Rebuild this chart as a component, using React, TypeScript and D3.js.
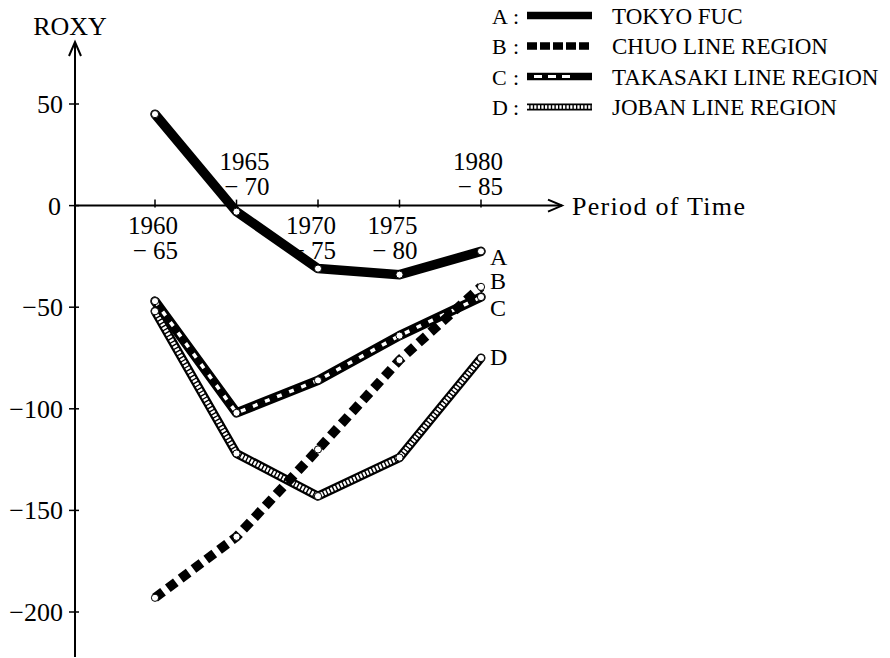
import React from "react";
import * as d3 from "d3";

const periods = ["1960-65", "1965-70", "1970-75", "1975-80", "1980-85"];
const periodTop = ["1960", "1965", "1970", "1975", "1980"];
const periodBottom = ["− 65", "− 70", "− 75", "− 80", "− 85"];
const labelAbove = [false, true, false, false, true];
const labelShift = [-1, 9, -6, -6, -2];

const yTicks = [50, 0, -50, -100, -150, -200];
const yTickLabels = ["50", "0", "−50", "−100", "−150", "−200"];

const seriesKeys = ["A", "B", "C", "D"];
const seriesNames = ["TOKYO FUC", "CHUO LINE REGION", "TAKASAKI LINE REGION", "JOBAN LINE REGION"];
const tokyo = [45, -3, -31, -34, -22.5];
const chuo = [-193, -163, -120, -76, -40];
const takasaki = [-47, -102, -86, -64, -45];
const joban = [-52, -122, -143, -124, -75];

const F = "'Liberation Serif', 'Times New Roman', serif";

const x = d3.scalePoint<string>().domain(periods).range([155, 481]);
const y = d3.scaleLinear().domain([-200, 50]).range([612, 104]);
const line = d3.line<[number, number]>().x((d) => d[0]).y((d) => d[1]);

function pts(vals: number[]): [number, number][] {
  return vals.map((v, i) => [x(periods[i]) as number, y(v)]);
}

function Styled({ d, kind, legend }: { d: string; kind: string; legend?: boolean }) {
  const w = legend ? 7.5 : 9.5;
  const common = { fill: "none", strokeLinejoin: "round" as const };
  if (kind === "A")
    return <path d={d} {...common} stroke="#000" strokeWidth={w} strokeLinecap={legend ? "butt" : "round"} />;
  if (kind === "B")
    return (
      <path d={d} {...common} stroke="#000" strokeWidth={w} strokeDasharray={legend ? "10 3" : "10 6"} strokeLinejoin="miter" />
    );
  if (kind === "C")
    return (
      <g>
        <path d={d} {...common} stroke="#000" strokeWidth={w} strokeLinecap={legend ? "butt" : "round"} />
        <path d={d} {...common} stroke="#fff" strokeWidth={legend ? 3 : 3.5} strokeDasharray={legend ? "0 7 8 6 8 6 8 20" : "5 8"} />
      </g>
    );
  return (
    <g>
      <path d={d} {...common} stroke="#000" strokeWidth={legend ? 7 : 9} strokeLinecap={legend ? "butt" : "round"} />
      <path d={d} {...common} stroke="#fff" strokeWidth={legend ? 3.5 : 4.5} strokeDasharray="2.2 1.4" />
    </g>
  );
}

export default function App() {
  const data = [tokyo, chuo, takasaki, joban];
  const order = [3, 2, 1, 0];
  const endLabelY = [265, 289, 316, 365];
  const x0 = 75;
  const y0 = y(0);
  return (
    <svg width={890} height={658} style={{ position: "absolute", left: 0, top: 0, background: "#fff" }}>
      {/* y axis */}
      <line x1={x0} y1={42} x2={x0} y2={657} stroke="#000" strokeWidth={2} />
      <path d={`M${x0 - 6},${56} L${x0},${42} L${x0 + 6},${56}`} fill="none" stroke="#000" strokeWidth={2} />
      <text x={70} y={35} fontFamily={F} fontSize={26} textAnchor="middle">ROXY</text>
      {yTicks.map((t, i) => (
        <line key={"yt" + i} x1={x0 - 6} x2={x0 + 4} y1={y(t)} y2={y(t)} stroke="#000" strokeWidth={1.5} />
      ))}
      {yTicks.map((t, i) => (
        <text key={"yl" + i} x={t === 0 ? 61 : 63} y={y(t) + 9} fontFamily={F} fontSize={26} textAnchor="end">
          {yTickLabels[i]}
        </text>
      ))}
      {/* x axis */}
      <line x1={x0} y1={y0} x2={562} y2={y0} stroke="#000" strokeWidth={2} />
      <path d={`M${548},${y0 - 6} L${562},${y0} L${548},${y0 + 6}`} fill="none" stroke="#000" strokeWidth={2} />
      <text x={572} y={y0 + 9} fontFamily={F} fontSize={26} letterSpacing={1.3}>Period of Time</text>
      {periods.map((p, i) => {
        const cx = (x(p) as number);
        const right = cx + labelShift[i] + 24;
        const ty1 = labelAbove[i] ? 170 : 234;
        return (
          <g key={"xt" + i}>
            <line x1={cx} x2={cx} y1={y0 - 6} y2={y0 + 2} stroke="#000" strokeWidth={1.5} />
            <text x={right} y={ty1} fontFamily={F} fontSize={25} textAnchor="end">{periodTop[i]}</text>
            <text x={right} y={ty1 + 25} fontFamily={F} fontSize={25} textAnchor="end">{periodBottom[i]}</text>
          </g>
        );
      })}
      {/* series */}
      {order.map((k) => {
        const p = pts(data[k]);
        return (
          <g key={"s" + k}>
            <Styled d={line(p) as string} kind={seriesKeys[k]} />
          </g>
        );
      })}
      {order.map((k) =>
        pts(data[k]).map((q, i) => (
          <circle key={"c" + k + i} cx={q[0]} cy={q[1]} r={3.6} fill="#fff" stroke="#000" strokeWidth={1} />
        ))
      )}
      {seriesKeys.map((s, k) => (
        <text key={"el" + k} x={490} y={endLabelY[k]} fontFamily={F} fontSize={24}>{s}</text>
      ))}
      {/* legend */}
      {seriesKeys.map((s, k) => {
        const cy = 15.5 + k * 30.5;
        return (
          <g key={"lg" + k}>
            <text x={492} y={cy + 8} fontFamily={F} fontSize={22}>{s}</text>
            <text x={513} y={cy + 8} fontFamily={F} fontSize={22}>:</text>
            <Styled d={`M527,${cy}L592,${cy}`} kind={s} legend />
            <text x={612} y={cy + 8} fontFamily={F} fontSize={23}>{seriesNames[k]}</text>
          </g>
        );
      })}
    </svg>
  );
}
